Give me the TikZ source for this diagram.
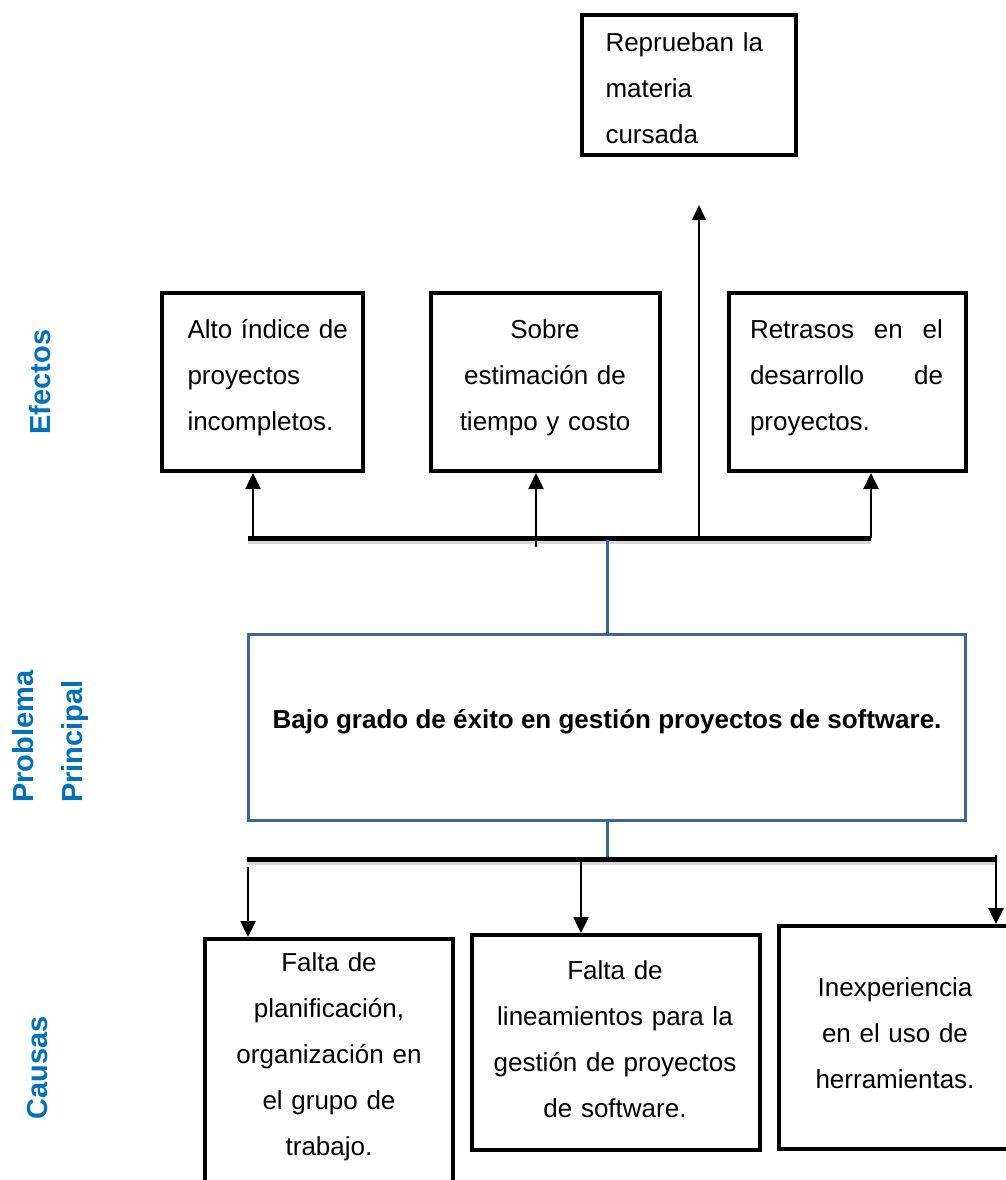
\documentclass[tikz,border=0pt]{standalone}
\usepackage{fontspec}
\setmainfont{Liberation Sans}
\usetikzlibrary{arrows.meta}
\definecolor{framblue}{HTML}{3F6496}
\definecolor{labblue}{HTML}{0070C0}
\begin{document}
\begin{tikzpicture}[x=1pt,y=-1pt,
  box/.style={draw=black,line width=4pt,rectangle,inner sep=0pt},
  mainbox/.style={draw=framblue,line width=3pt,rectangle,inner sep=0pt},
  txt/.style={inner sep=0pt,font=\fontsize{26}{46}\selectfont},
  lab/.style={inner sep=0pt,text=labblue,rotate=90,font=\fontsize{29}{34}\selectfont\bfseries},
  bar/.style={line width=5pt},
  barshadow/.style={line width=5pt,black!30,opacity=0.5},
  arr/.style={line width=2.5pt,-{Triangle[length=16pt,width=15pt]}},
  thinarr/.style={line width=1.3pt,-{Triangle[length=15pt,width=14pt]}},
  link/.style={draw=framblue,line width=3pt}]
\useasboundingbox (0,0) rectangle (1006,1180);
\fill[white] (0,0) rectangle (1006,1180);

% side labels
\node[lab,anchor=base] (lef) at (50,382) {Efectos};
\node[lab,anchor=base west] (lpr) at (33,803) {Problema};
\node[lab,anchor=base west] (lpi) at (82,803) {Principal};
\node[lab,anchor=base] (lca) at (47,1068) {Causas};

% effect boxes
\node[box,minimum width=214,minimum height=140] (top) at (689,85) {};
\node[txt,text width=185,align=left] (topt) at (698,88) {Reprueban la\\materia\\cursada};

\node[box,minimum width=201,minimum height=178] (e1) at (262.5,382) {};
\node[txt,text width=165,align=left] (e1t) at (270,378) {Alto índice de\\proyectos\\incompletos.};

\node[box,minimum width=229,minimum height=178] (e2) at (545.5,382) {};
\node[txt,text width=210,align=center] (e2t) at (545,378) {Sobre\\estimación de\\tiempo y costo};

\node[box,minimum width=237,minimum height=178] (e3) at (847.5,382) {};
\node[txt,text width=193,align=left] (e3t) at (846.5,378) {Retrasos\hfill en\hfill el\\desarrollo\hfill de\\proyectos.};

% main problem
\node[mainbox,minimum width=717,minimum height=186] (main) at (607,727.5) {};
\node[inner sep=0pt,font=\fontsize{26}{30}\selectfont\bfseries] (maint) at (607,722) {Bajo grado de éxito en gestión proyectos de software.};

% cause boxes
\node[box,minimum width=248,minimum height=251] (c1) at (329,1064.5) {};
\node[txt,text width=240,align=center] (c1t) at (329,1057) {Falta de\\planificación,\\organización en\\el grupo de\\trabajo.};

\node[box,minimum width=288,minimum height=215] (c2) at (616,1042.5) {};
\node[txt,text width=280,align=center] (c2t) at (615,1039) {Falta de\\lineamientos para la\\gestión de proyectos\\de software.};

\node[box,minimum width=233,minimum height=223] (c3) at (895.5,1037.5) {};
\node[txt,text width=220,align=center] (c3t) at (895,1033) {Inexperiencia\\en el uso de\\herramientas.};

% effects bar and its taps
\coordinate (eb1) at (248,538);
\coordinate (eb2) at (871,538);
\coordinate (et1) at (253,538);
\coordinate (et2) at (536,547);
\coordinate (et3) at (871,538);
\coordinate (et4) at (699,538);
\coordinate (etop) at (699,205);
\coordinate (mid1) at (607,540);
\draw[barshadow] ([yshift=-3pt]eb1) -- ([yshift=-3pt]eb2);
\draw[bar] (eb1) -- (eb2);
\draw[arr] (et1) -- (et1 |- e1.south);
\draw[arr] (et2) -- (et2 |- e2.south);
\draw[arr] (et3) -- (et3 |- e3.south);
\draw[thinarr] (et4) -- (etop);
\draw[link] (mid1) -- (mid1 |- main.north);

% causes bar and its taps
\coordinate (cb1) at (247,859);
\coordinate (cb2) at (996,859);
\coordinate (ct1) at (248,867);
\coordinate (ct2) at (581,859);
\coordinate (ct3) at (996,855);
\coordinate (mid2) at (607,857);
\draw[link] (mid2 |- main.south) -- (mid2);
\draw[barshadow] ([yshift=-3pt]cb1) -- ([yshift=-3pt]cb2);
\draw[bar] (cb1) -- (cb2);
\draw[arr] (ct1) -- (ct1 |- c1.north);
\draw[arr] (ct2) -- (ct2 |- c2.north);
\draw[arr] (ct3) -- (ct3 |- c3.north);
\end{tikzpicture}
\end{document}
